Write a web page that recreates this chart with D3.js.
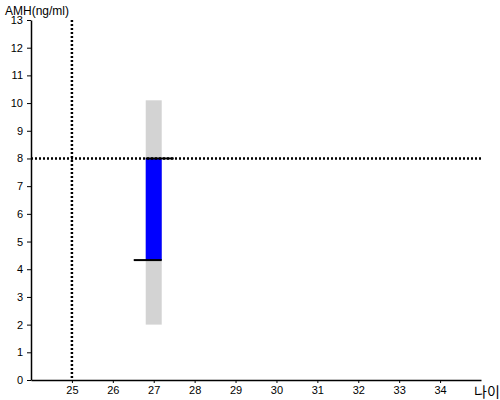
<!DOCTYPE html>
<html>
<head>
<meta charset="utf-8">
<script src="https://cdn.jsdelivr.net/npm/d3@7"></script>
<style>
  body { margin: 0; background: #fff; }
  text { font-family: "Liberation Sans", Arial, sans-serif; }
</style>
</head>
<body>
<svg></svg>
<script>
const WIDTH = 500;
const HEIGHT = 400;

// age axis and AMH axis
const xDomain = [24, 35];
const xTicks = [25, 26, 27, 28, 29, 30, 31, 32, 33, 34];
const yDomain = [0, 13];
const yTicks = [0, 1, 2, 3, 4, 5, 6, 7, 8, 9, 10, 11, 12, 13];

// reference lines
const refAge = 25;
const refAmh = 8;

// the one measurement: normal range (grey) and open/close (blue)
const ages = [27];
const rangeLow = [2.0];
const rangeHigh = [10.1];
const openValues = [4.33];
const closeValues = [8.0];

const bars = ages.map((a, i) => ({
  age: a, low: rangeLow[i], high: rangeHigh[i], open: openValues[i], close: closeValues[i],
}));

const svg = d3.select('svg')
    .attr('width', WIDTH)
    .attr('height', HEIGHT);

const x = d3.scaleLinear().domain(xDomain).range([31, 481]);
const y = d3.scaleLinear().domain(yDomain).range([380, 20]);
const barW = 16;
const tickLen = 12;

// grey range
svg.selectAll('rect.range')
    .data(bars)
  .enter().append('rect')
    .attr('class', 'range')
    .attr('x', (d) => x(d.age) - barW / 2)
    .attr('width', barW)
    .attr('y', (d) => y(d.high))
    .attr('height', (d) => y(d.low) - y(d.high))
    .attr('fill', '#d3d3d3');

// blue open-close body
svg.selectAll('rect.body')
    .data(bars)
  .enter().append('rect')
    .attr('class', 'body')
    .attr('x', (d) => x(d.age) - barW / 2)
    .attr('width', barW)
    .attr('y', (d) => y(Math.max(d.open, d.close)))
    .attr('height', (d) => Math.abs(y(d.open) - y(d.close)))
    .attr('fill', '#0000ff');

// open tick (left) and close tick (right)
svg.selectAll('line.open')
    .data(bars)
  .enter().append('line')
    .attr('x1', (d) => x(d.age) - barW / 2 - tickLen)
    .attr('x2', (d) => x(d.age) + barW / 2)
    .attr('y1', (d) => y(d.open))
    .attr('y2', (d) => y(d.open))
    .attr('stroke', '#000')
    .attr('stroke-width', 2);

svg.selectAll('line.close')
    .data(bars)
  .enter().append('line')
    .attr('x1', (d) => x(d.age) - barW / 2)
    .attr('x2', (d) => x(d.age) + barW / 2 + tickLen)
    .attr('y1', (d) => y(d.close))
    .attr('y2', (d) => y(d.close))
    .attr('stroke', '#000')
    .attr('stroke-width', 2);

// axes
const xAxis = svg.append('g')
    .attr('transform', `translate(0, ${y(0)})`)
    .call(d3.axisBottom(x).tickValues(xTicks).tickSize(3).tickSizeOuter(0));
const yAxis = svg.append('g')
    .attr('transform', `translate(${x(24)}, 0)`)
    .call(d3.axisLeft(y).tickValues(yTicks).tickSize(4).tickSizeOuter(0));

[xAxis, yAxis].forEach((g) => {
  g.select('.domain').attr('stroke', '#000').attr('stroke-width', 1.5);
  g.selectAll('.tick line').attr('stroke', '#000');
  g.selectAll('.tick text')
      .attr('fill', '#000')
      .style('font-size', '11px')
      .style('font-family', '"Liberation Sans", Arial, sans-serif');
});
yAxis.selectAll('.tick text').attr('x', -8);

// dotted reference lines
svg.append('line')
    .attr('x1', x(refAge)).attr('x2', x(refAge))
    .attr('y1', y(13)).attr('y2', y(0))
    .attr('stroke', '#000')
    .attr('stroke-width', 2.5)
    .attr('stroke-dasharray', '2,2');

svg.append('line')
    .attr('x1', x(24)).attr('x2', x(35))
    .attr('y1', y(refAmh)).attr('y2', y(refAmh))
    .attr('stroke', '#000')
    .attr('stroke-width', 2.5)
    .attr('stroke-dasharray', '2,2');

// axis titles
svg.append('text')
    .attr('x', 5)
    .attr('y', 15)
    .style('font-size', '12px')
    .text('AMH(ng/ml)');

svg.append('text')
    .attr('x', 474)
    .attr('y', 397)
    .style('font-size', '14px')
    .style('font-family', '"Noto Sans CJK KR", sans-serif')
    .text('나이');
</script>
</body>
</html>
